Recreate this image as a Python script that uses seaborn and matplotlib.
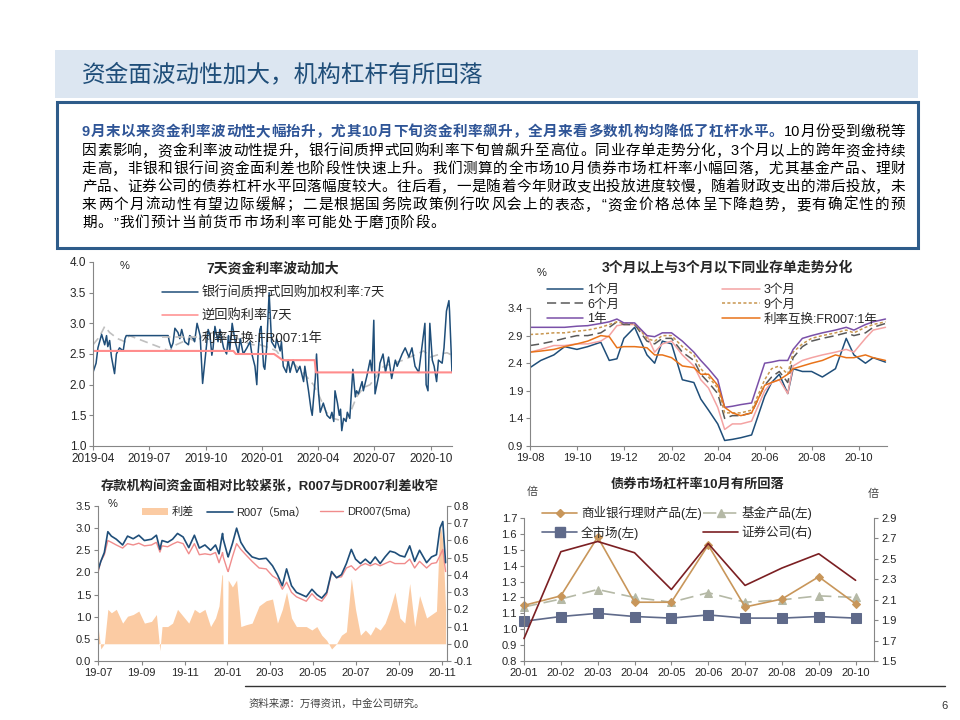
import re
import numpy as np
import pandas as pd
import matplotlib
matplotlib.use("Agg")
import matplotlib.pyplot as plt
import matplotlib.dates as mdates
from matplotlib.lines import Line2D
from matplotlib.patches import Rectangle, Patch
from matplotlib.ticker import FormatStrFormatter
import seaborn as sns

sns.set_theme(style="white")
plt.rcParams['font.family'] = ['Liberation Sans', 'Noto Sans CJK SC']
plt.rcParams['axes.unicode_minus'] = False

# ---------------- data ----------------
# panel 1: 7-day rates
p1_repo7_dates = ['2019-04-01', '2019-04-06', '2019-04-09', '2019-04-15', '2019-04-20', '2019-04-23', '2019-04-25',
                  '2019-04-28', '2019-05-01', '2019-05-06', '2019-05-09', '2019-05-14', '2019-05-20', '2019-05-23',
                  '2019-05-25', '2019-08-01', '2019-08-03', '2019-08-06', '2019-08-09', '2019-08-12', '2019-08-17',
                  '2019-08-20', '2019-08-23', '2019-08-28', '2019-09-03', '2019-09-05', '2019-09-11', '2019-09-13',
                  '2019-09-17', '2019-09-22', '2019-09-26', '2019-10-02', '2019-10-05', '2019-10-08', '2019-10-11',
                  '2019-10-13', '2019-10-16', '2019-10-21', '2019-10-24', '2019-10-30', '2019-11-04', '2019-11-07',
                  '2019-11-09', '2019-11-13', '2019-11-18', '2019-11-23', '2019-11-26', '2019-12-01', '2019-12-07',
                  '2019-12-12', '2019-12-15', '2019-12-20', '2019-12-23', '2019-12-25', '2019-12-28', '2019-12-30',
                  '2020-01-03', '2020-01-05', '2020-01-08', '2020-01-12', '2020-01-16', '2020-01-22', '2020-01-24',
                  '2020-01-30', '2020-02-01', '2020-02-04', '2020-02-09', '2020-02-12', '2020-02-15', '2020-02-20',
                  '2020-02-26', '2020-03-02', '2020-03-08', '2020-03-10', '2020-03-16', '2020-03-20', '2020-03-22',
                  '2020-03-24', '2020-03-27', '2020-03-29', '2020-04-01', '2020-04-04', '2020-04-09', '2020-04-15',
                  '2020-04-20', '2020-04-23', '2020-04-26', '2020-04-28', '2020-05-02', '2020-05-05', '2020-05-07',
                  '2020-05-09', '2020-05-12', '2020-05-16', '2020-05-18', '2020-05-22', '2020-05-27', '2020-05-31',
                  '2020-06-02', '2020-06-05', '2020-06-11', '2020-06-13', '2020-06-19', '2020-06-24', '2020-06-27',
                  '2020-06-30', '2020-07-02', '2020-07-08', '2020-07-10', '2020-07-15', '2020-07-19', '2020-07-24',
                  '2020-07-29', '2020-08-04', '2020-08-07', '2020-08-15', '2020-08-20', '2020-08-26', '2020-08-31',
                  '2020-09-05', '2020-09-11', '2020-09-16', '2020-09-21', '2020-09-23', '2020-09-26', '2020-09-29',
                  '2020-10-03', '2020-10-06', '2020-10-10', '2020-10-13', '2020-10-19', '2020-10-22', '2020-10-26',
                  '2020-10-30', '2020-10-31', '2020-11-04']
p1_repo7 = [2.20, 2.35, 2.60, 2.82, 2.65, 2.80, 2.62, 2.72, 2.45, 2.18, 2.50, 2.60, 2.55, 2.75, 2.80,
            2.80, 2.70, 2.60, 2.68, 2.92, 2.85, 2.75, 2.90, 2.70, 2.65, 2.80, 2.75, 2.70, 3.00, 2.80, 2.02,
            2.60, 2.90, 2.80, 2.48, 2.60, 2.95, 2.70, 2.90, 2.60, 2.50, 2.80, 2.55, 3.00, 2.70, 2.50, 2.75,
            2.50, 2.60, 2.70, 2.50, 2.30, 2.00, 2.50, 2.90, 2.95, 2.30, 2.25, 2.60, 3.50, 2.70, 2.60, 2.75,
            2.55, 2.70, 2.30, 2.20, 2.40, 2.20, 2.40, 2.20, 2.30, 2.05, 2.30, 1.90, 1.60, 1.50, 1.75, 2.10,
            2.50, 1.90, 1.55, 1.70, 1.50, 1.45, 1.55, 1.40, 1.90, 1.70, 1.50, 1.60, 1.25, 1.45, 1.40, 1.55,
            1.45, 2.25, 1.80, 1.90, 1.85, 2.05, 1.90, 2.15, 2.40, 2.20, 3.05, 1.85, 2.15, 2.35, 2.50, 2.20,
            2.45, 2.10, 2.40, 2.30, 2.50, 2.60, 2.45, 2.60, 2.30, 2.20, 2.60, 3.00, 2.00, 1.90, 3.00, 2.40,
            2.30, 2.05, 2.40, 2.35, 2.60, 3.20, 3.37, 3.20, 2.20]
p1_rev_dates = ['2019-04-01', '2019-11-15', '2019-11-19', '2020-01-20', '2020-02-03', '2020-03-26',
                '2020-03-28', '2020-11-04']
p1_rev = [2.55, 2.55, 2.50, 2.50, 2.40, 2.40, 2.20, 2.20]
p1_swap_dates = ['2019-04-01', '2019-04-09', '2019-04-15', '2019-04-20', '2019-04-28', '2019-05-11', '2019-05-23',
                 '2019-05-30', '2019-08-03', '2019-08-14', '2019-08-25', '2019-09-05', '2019-09-16', '2019-09-27',
                 '2019-10-13', '2019-10-29', '2019-11-14', '2019-12-01', '2019-12-17', '2019-12-28', '2020-01-13',
                 '2020-01-24', '2020-02-04', '2020-02-20', '2020-03-07', '2020-03-24', '2020-04-03', '2020-04-14',
                 '2020-04-25', '2020-05-06', '2020-05-17', '2020-05-25', '2020-06-02', '2020-06-13', '2020-06-24',
                 '2020-07-05', '2020-07-16', '2020-08-01', '2020-08-17', '2020-08-28', '2020-09-08', '2020-09-19',
                 '2020-09-30', '2020-10-16', '2020-10-27', '2020-11-04']
p1_swap = [2.65, 2.75, 2.85, 2.95, 2.85, 2.75, 2.70, 2.80, 2.55, 2.65, 2.70, 2.75, 2.70, 2.80, 2.85, 2.75,
           2.80, 2.70, 2.65, 2.65, 2.60, 2.55, 2.40, 2.35, 2.20, 2.00, 1.80, 1.55, 1.45, 1.42, 1.45, 1.60,
           1.80, 1.95, 2.00, 2.15, 2.30, 2.35, 2.40, 2.45, 2.50, 2.55, 2.45, 2.50, 2.52, 2.48]

# panel 2: NCD yields
p2_dates = ['2019-08-01', '2019-08-15', '2019-09-01', '2019-09-15', '2019-10-01', '2019-10-15', '2019-11-01',
            '2019-11-12', '2019-11-22', '2019-12-01', '2019-12-15', '2019-12-31', '2020-01-10', '2020-01-20',
            '2020-02-01', '2020-02-15', '2020-03-01', '2020-03-10', '2020-03-20', '2020-04-01', '2020-04-10',
            '2020-04-20', '2020-05-01', '2020-05-15', '2020-06-01', '2020-06-10', '2020-06-20', '2020-07-01',
            '2020-07-08', '2020-07-20', '2020-08-01', '2020-08-15', '2020-09-01', '2020-09-15', '2020-09-25',
            '2020-10-10', '2020-10-20', '2020-11-05']
p2_m1 = [2.32, 2.45, 2.55, 2.70, 2.65, 2.70, 2.78, 2.45, 2.48, 2.85, 3.05, 2.55, 2.40, 2.80, 2.75, 2.10,
         2.05, 1.75, 1.55, 1.30, 1.00, 1.02, 1.05, 1.10, 1.80, 2.05, 2.20, 1.85, 2.30, 2.25, 2.25, 2.15,
         2.30, 2.85, 2.55, 2.40, 2.50, 2.42]
p2_m3 = [2.60, 2.65, 2.72, 2.72, 2.75, 2.75, 2.80, 2.90, 3.08, 3.10, 3.10, 2.90, 2.60, 2.75, 2.80, 2.55,
         2.35, 2.10, 1.95, 1.60, 1.20, 1.30, 1.30, 1.35, 1.90, 2.05, 2.10, 1.85, 2.35, 2.45, 2.50, 2.55,
         2.60, 2.65, 2.60, 2.85, 3.00, 3.05]
p2_m6 = [2.72, 2.75, 2.80, 2.85, 2.90, 2.90, 2.95, 3.05, 3.15, 3.10, 3.10, 2.80, 2.75, 2.85, 2.85, 2.60,
         2.45, 2.20, 2.05, 1.85, 1.40, 1.45, 1.45, 1.50, 2.00, 2.15, 2.25, 2.05, 2.50, 2.70, 2.80, 2.85,
         2.90, 2.95, 2.90, 2.95, 3.05, 3.12]
p2_m9 = [2.92, 2.93, 2.95, 2.95, 2.98, 3.00, 3.05, 3.10, 3.15, 3.12, 3.12, 2.85, 2.80, 2.90, 2.90, 2.70,
         2.55, 2.30, 2.15, 1.95, 1.50, 1.50, 1.50, 1.55, 2.10, 2.30, 2.35, 2.20, 2.60, 2.75, 2.85, 2.90,
         2.95, 3.00, 2.95, 3.05, 3.10, 3.15]
p2_y1 = [3.05, 3.05, 3.05, 3.05, 3.07, 3.08, 3.12, 3.15, 3.20, 3.13, 3.13, 2.90, 2.88, 2.95, 2.95, 2.80,
         2.60, 2.45, 2.30, 2.10, 1.60, 1.62, 1.65, 1.68, 2.40, 2.42, 2.45, 2.45, 2.65, 2.85, 2.90, 2.95,
         3.00, 3.05, 3.00, 3.10, 3.15, 3.20]
p2_irs = [2.60, 2.62, 2.65, 2.70, 2.75, 2.80, 2.90, 2.88, 2.68, 2.70, 2.70, 2.68, 2.55, 2.55, 2.50, 2.35,
          2.32, 2.20, 2.20, 2.00, 1.60, 1.50, 1.45, 1.50, 2.00, 2.05, 2.10, 2.20, 2.30, 2.35, 2.40, 2.45,
          2.55, 2.50, 2.50, 2.55, 2.50, 2.45]

# panel 3: R007 / DR007 5-day averages and spread
p3_dates = ['2019-07-01', '2019-07-05', '2019-07-10', '2019-07-15', '2019-07-20', '2019-07-27', '2019-08-05',
            '2019-08-12', '2019-08-20', '2019-08-28', '2019-09-05', '2019-09-15', '2019-09-22', '2019-09-27',
            '2019-09-30', '2019-10-08', '2019-10-15', '2019-10-22', '2019-10-30', '2019-11-07', '2019-11-15',
            '2019-11-22', '2019-11-30', '2019-12-08', '2019-12-15', '2019-12-20', '2019-12-24', '2019-12-25',
            '2019-12-26', '2020-01-01', '2020-01-02', '2020-01-08', '2020-01-14', '2020-01-20', '2020-01-27',
            '2020-02-05', '2020-02-15', '2020-02-25', '2020-03-05', '2020-03-12', '2020-03-19', '2020-03-25',
            '2020-04-01', '2020-04-08', '2020-04-15', '2020-04-22', '2020-04-30', '2020-05-07', '2020-05-14',
            '2020-05-21', '2020-05-28', '2020-06-04', '2020-06-11', '2020-06-18', '2020-06-25', '2020-07-01',
            '2020-07-08', '2020-07-15', '2020-07-22', '2020-07-29', '2020-08-05', '2020-08-12', '2020-08-19',
            '2020-08-26', '2020-09-02', '2020-09-09', '2020-09-16', '2020-09-23', '2020-09-30', '2020-10-10',
            '2020-10-17', '2020-10-24', '2020-10-29', '2020-11-02', '2020-11-06']
p3_r007 = [2.05, 2.25, 2.45, 2.92, 2.82, 2.75, 2.62, 2.82, 2.76, 2.84, 2.72, 2.75, 2.84, 2.52, 2.72, 2.68,
           2.75, 2.88, 2.80, 2.56, 2.84, 2.55, 2.62, 2.50, 2.62, 2.42, 2.80, 2.88, 2.75, 2.40, 2.35, 2.65,
           3.00, 2.68, 2.50, 2.35, 2.30, 2.32, 2.15, 1.95, 1.70, 2.08, 1.70, 1.55, 1.50, 1.45, 1.62, 1.50,
           1.42, 1.55, 2.02, 1.88, 1.95, 2.20, 2.52, 2.30, 2.20, 2.30, 2.20, 2.35, 2.20, 2.35, 2.48, 2.45,
           2.38, 2.35, 2.60, 2.25, 2.50, 2.22, 2.35, 2.40, 3.00, 3.15, 2.22]
p3_dr007 = [2.00, 2.25, 2.40, 2.72, 2.68, 2.62, 2.55, 2.65, 2.62, 2.66, 2.60, 2.62, 2.68, 2.46, 2.60, 2.58,
            2.64, 2.69, 2.65, 2.42, 2.65, 2.40, 2.42, 2.40, 2.45, 2.22, 2.40, 2.45, 2.35, 2.05, 2.02, 2.35,
            2.65, 2.52, 2.40, 2.25, 2.10, 2.08, 1.92, 1.85, 1.62, 1.78, 1.55, 1.45, 1.40, 1.35, 1.52, 1.40,
            1.35, 1.50, 2.00, 1.88, 1.90, 2.10, 2.15, 2.05, 2.15, 2.20, 2.15, 2.20, 2.15, 2.20, 2.25, 2.20,
            2.20, 2.20, 2.30, 2.10, 2.25, 2.10, 2.20, 2.22, 2.38, 2.52, 2.02]
p3_spread = [0.10, -0.03, 0.00, 0.20, 0.18, 0.20, 0.12, 0.16, 0.17, 0.19, 0.12, 0.13, 0.17, -0.04, 0.10, 0.10,
             0.12, 0.20, 0.16, 0.12, 0.20, 0.18, 0.20, 0.10, 0.15, 0.22, 0.40, 0.40, 0.00, 0.00, 0.37, 0.33,
             0.37, 0.10, 0.11, 0.12, 0.22, 0.25, 0.26, 0.12, 0.20, 0.30, 0.15, 0.10, 0.10, 0.10, 0.08, 0.10,
             0.05, 0.02, -0.03, 0.00, 0.05, 0.07, 0.38, 0.20, 0.05, 0.08, 0.05, 0.10, 0.08, 0.12, 0.20, 0.30,
             0.15, 0.12, 0.35, 0.10, 0.28, 0.15, 0.17, 0.19, 0.70, 0.60, 0.20]

# panel 4: bond market leverage
p4_months = ['20-01', '20-02', '20-03', '20-04', '20-05', '20-06', '20-07', '20-08', '20-09', '20-10']
p4_wmp = [1.15, 1.21, 1.58, 1.17, 1.17, 1.53, 1.14, 1.19, 1.33, 1.16]
p4_fund = [1.14, 1.19, 1.25, 1.20, 1.17, 1.23, 1.17, 1.185, 1.21, 1.20]
p4_all = [1.05, 1.08, 1.10, 1.08, 1.07, 1.09, 1.07, 1.07, 1.08, 1.07]
p4_broker = [1.72, 2.57, 2.67, 2.56, 2.20, 2.65, 2.24, 2.41, 2.55, 2.29]

page_title = "资金面波动性加大，机构杠杆有所回落"
body_lines = [
    [("9月末以来资金利率波动性大幅抬升，尤其10月下旬资金利率飙升，全月来看多数机构均降低了杠杆水平。", True),
     ("10月份受到缴税等", False)],
    [("因素影响，资金利率波动性提升，银行间质押式回购利率下旬曾飙升至高位。同业存单走势分化，3个月以上的跨年资金持续", False)],
    [("走高，非银和银行间资金面利差也阶段性快速上升。我们测算的全市场10月债券市场杠杆率小幅回落，尤其基金产品、理财", False)],
    [("产品、证券公司的债券杠杆水平回落幅度较大。往后看，一是随着今年财政支出投放进度较慢，随着财政支出的滞后投放，未", False)],
    [("来两个月流动性有望边际缓解；二是根据国务院政策例行吹风会上的表态，“资金价格总体呈下降趋势，要有确定性的预", False)],
    [("期。”我们预计当前货币市场利率可能处于磨顶阶段。", False)],
]

# ---------------- layout helpers ----------------
W, H = 960, 720
fig = plt.figure(figsize=(9.6, 7.2), dpi=100)
fig.patch.set_facecolor('white')


def fx(px):
    return px / W


def fy(py):
    return 1 - py / H


def box(l, t, r, b):
    return [fx(l), fy(b), (r - l) / W, (b - t) / H]


AX_COL = '#868686'


def style(ax, size=8, right_spine=False):
    ax.spines['top'].set_visible(False)
    ax.spines['right'].set_visible(right_spine)
    for s in ['left', 'bottom', 'right']:
        ax.spines[s].set_color(AX_COL)
        ax.spines[s].set_linewidth(0.8)
    ax.tick_params(axis='both', which='both', direction='out', length=3, width=0.8,
                   color=AX_COL, labelsize=size, pad=2, bottom=True, left=True)
    ax.set_xlabel('')
    ax.set_ylabel('')
    ax.grid(False)


def legend(handles, labels, x, ytop, size, spacing, hl):
    fig.legend(handles, labels, loc='upper left', bbox_to_anchor=(fx(x), fy(ytop)),
               bbox_transform=fig.transFigure, frameon=False, fontsize=size, borderpad=0,
               borderaxespad=0, handlelength=hl, handletextpad=0.3, labelspacing=spacing)


# ---------------- header ----------------
fig.add_artist(Rectangle((fx(55), fy(98)), 863 / W, 48 / H, transform=fig.transFigure,
                         facecolor='#DCE6F1', edgecolor='none'))
fig.text(fx(82), fy(75), page_title, fontsize=17, color='#1F4E79', va='center', ha='left')
fig.add_artist(Rectangle((fx(57), fy(248)), 861 / W, 146 / H, transform=fig.transFigure,
                         fill=False, edgecolor='#2E5C8A', linewidth=2.2))

renderer = fig.canvas.get_renderer()
body_y = [132, 151, 169, 187, 205, 223]
fs = 10.5
em = fs * 100 / 72
for i, parts in enumerate(body_lines):
    toks = []
    for s, bold in parts:
        for tok in re.findall(r'[A-Za-z0-9]+|.', s):
            toks.append((tok, bold))
    arts, widths = [], []
    for tok, bold in toks:
        t = fig.text(0, fy(body_y[i]), tok, fontsize=fs, va='center', ha='left',
                     color='#2F5597' if bold else 'black', weight='bold' if bold else 'normal')
        if len(tok) == 1 and ord(tok) >= 0x3000:
            w = em
        else:
            w = t.get_window_extent(renderer).width
        arts.append(t)
        widths.append(w)
    x0, x1 = 82, 905
    if i < len(body_lines) - 1:
        gap = (x1 - x0 - sum(widths)) / (len(toks) - 1)
    else:
        gap = 1.0
    x = x0
    for t, w in zip(arts, widths):
        t.set_x(fx(x))
        x += w + gap

# ---------------- panel 1 ----------------
ax1 = fig.add_axes(box(93, 262, 452, 446))
c_navy = '#1F4E79'
sns.lineplot(x=pd.to_datetime(p1_swap_dates), y=p1_swap, ax=ax1, color='#C0C0C0', lw=1.2,
             linestyle=(0, (5, 3)))
sns.lineplot(x=pd.to_datetime(p1_repo7_dates), y=p1_repo7, ax=ax1, color=c_navy, lw=1.1)
sns.lineplot(x=pd.to_datetime(p1_rev_dates), y=p1_rev, ax=ax1, color='#FF8C8C', lw=1.5)
ax1.set_xlim(pd.Timestamp('2019-04-01'), pd.Timestamp('2020-11-04'))
ax1.set_ylim(1.0, 4.0)
ax1.set_yticks(np.arange(1.0, 4.01, 0.5))
ax1.yaxis.set_major_formatter(FormatStrFormatter('%.1f'))
ax1.xaxis.set_major_locator(mdates.MonthLocator(bymonth=[1, 4, 7, 10]))
ax1.xaxis.set_major_formatter(mdates.DateFormatter('%Y-%m'))
style(ax1, size=8.5)
fig.text(fx(273), fy(269), '7天资金利率波动加大', fontsize=10, weight='bold', ha='center', va='center')
fig.text(fx(125), fy(266), '%', fontsize=8, ha='center', va='center')
legend([Line2D([], [], color=c_navy, lw=1.1),
        Line2D([], [], color='#FF8C8C', lw=1.1),
        Line2D([], [], color='#C0C0C0', lw=1.2, ls=(0, (5, 3)))],
       ['银行间质押式回购加权利率:7天', '逆回购利率:7天', '利率互换:FR007:1年'],
       162, 287, 9.5, 0.73, 2.7)

# ---------------- panel 2 ----------------
ax2 = fig.add_axes(box(530, 308, 887, 446))
d2 = pd.to_datetime(p2_dates)
s2 = [('1个月', p2_m1, '#1F4E79', '-'), ('3个月', p2_m3, '#F4A3A3', '-'),
      ('6个月', p2_m6, '#595959', (0, (6, 3))), ('9个月', p2_m9, '#C8964F', (0, (2, 1.5))),
      ('1年', p2_y1, '#7A50A8', '-'), ('利率互换:FR007:1年', p2_irs, '#E8731A', '-')]
handles2 = {}
for name, vals, col, ls in s2:
    sns.lineplot(x=d2, y=vals, ax=ax2, color=col, lw=1.1, linestyle=ls)
    handles2[name] = Line2D([], [], color=col, lw=1.1, ls=ls)
ax2.set_xlim(pd.Timestamp('2019-08-01'), pd.Timestamp('2020-11-07'))
ax2.set_ylim(0.9, 3.4)
ax2.set_yticks(np.arange(0.9, 3.41, 0.5))
ax2.yaxis.set_major_formatter(FormatStrFormatter('%.1f'))
ax2.xaxis.set_major_locator(mdates.MonthLocator(bymonth=[2, 4, 6, 8, 10, 12]))
ax2.xaxis.set_major_formatter(mdates.DateFormatter('%y-%m'))
style(ax2, size=8)
fig.text(fx(727), fy(268), '3个月以上与3个月以下同业存单走势分化', fontsize=10, weight='bold',
         ha='center', va='center')
fig.text(fx(542), fy(273), '%', fontsize=8, ha='center', va='center')
col1 = ['1个月', '6个月', '1年']
col2 = ['3个月', '9个月', '利率互换:FR007:1年']
legend([handles2[n] for n in col1], col1, 547, 284, 9, 0.22, 2.9)
legend([handles2[n] for n in col2], col2, 722, 284, 9, 0.22, 3.0)

# ---------------- panel 3 ----------------
ax3 = fig.add_axes(box(98, 506, 447, 661))
ax3r = ax3.twinx()
d3 = pd.to_datetime(p3_dates)
c_area = '#FBCBA3'
ax3r.fill_between(d3, 0, p3_spread, color=c_area, lw=0)
sns.lineplot(x=d3, y=p3_dr007, ax=ax3, color='#F08C8C', lw=1.0)
sns.lineplot(x=d3, y=p3_r007, ax=ax3, color=c_navy, lw=1.2)
ax3.set_zorder(ax3r.get_zorder() + 1)
ax3.patch.set_visible(False)
ax3.set_xlim(pd.Timestamp('2019-07-01'), pd.Timestamp('2020-11-08'))
ax3.set_ylim(0, 3.5)
ax3.set_yticks(np.arange(0, 3.51, 0.5))
ax3.yaxis.set_major_formatter(FormatStrFormatter('%.1f'))
ax3r.set_ylim(-0.1, 0.8)
ax3r.set_yticks(np.arange(-0.1, 0.81, 0.1))
ax3r.yaxis.set_major_formatter(FormatStrFormatter('%.1f'))
ax3.xaxis.set_major_locator(mdates.MonthLocator(bymonth=[1, 3, 5, 7, 9, 11]))
ax3.xaxis.set_major_formatter(mdates.DateFormatter('%y-%m'))
style(ax3, size=8)
style(ax3r, size=8, right_spine=True)
ax3r.spines['left'].set_visible(False)
ax3r.spines['bottom'].set_visible(False)
ax3r.tick_params(left=False, right=True, bottom=False)
fig.text(fx(270), fy(486), '存款机构间资金面相对比较紧张，R007与DR007利差收窄', fontsize=9.5,
         weight='bold', ha='center', va='center')
fig.text(fx(113), fy(504), '%', fontsize=8, ha='center', va='center')
legend([Patch(facecolor=c_area, edgecolor='none')], ['利差'], 142, 507, 8, 0.1, 2.35)
legend([Line2D([], [], color=c_navy, lw=1.2)], ['R007（5ma）'], 207, 507, 8, 0.1, 2.35)
legend([Line2D([], [], color='#F08C8C', lw=1.0)], ['DR007(5ma)'], 320, 507, 8, 0.1, 2.1)

# ---------------- panel 4 ----------------
ax4 = fig.add_axes(box(524, 518, 874, 661))
ax4r = ax4.twinx()
xs = np.arange(len(p4_months))
c_wmp, c_fund, c_all, c_brk = '#C8965A', '#B5B9A6', '#5F6A8A', '#7B1F22'
sns.lineplot(x=xs, y=p4_all, ax=ax4, color=c_all, lw=1.2, marker='s', markersize=7,
             markeredgecolor=c_all, clip_on=False)
sns.lineplot(x=xs, y=p4_fund, ax=ax4, color=c_fund, lw=1.2, linestyle=(0, (8, 4)), marker='^',
             markersize=6, markeredgecolor=c_fund, clip_on=False)
sns.lineplot(x=xs, y=p4_wmp, ax=ax4, color=c_wmp, lw=1.2, marker='D', markersize=4,
             markeredgecolor=c_wmp, clip_on=False)
sns.lineplot(x=xs, y=p4_broker, ax=ax4r, color=c_brk, lw=1.2, clip_on=False)
ax4.set_xlim(0, 9.5)
ax4.set_xticks(xs)
ax4.set_xticklabels(p4_months)
ax4.set_ylim(0.8, 1.7)
ax4.set_yticks(np.arange(0.8, 1.71, 0.1))
ax4.yaxis.set_major_formatter(FormatStrFormatter('%.1f'))
ax4r.set_ylim(1.5, 2.9)
ax4r.set_yticks(np.arange(1.5, 2.91, 0.2))
ax4r.yaxis.set_major_formatter(FormatStrFormatter('%.1f'))
style(ax4, size=8)
style(ax4r, size=8, right_spine=True)
ax4r.spines['left'].set_visible(False)
ax4r.spines['bottom'].set_visible(False)
ax4r.tick_params(left=False, right=True, bottom=False)
fig.text(fx(698), fy(485), '债券市场杠杆率10月有所回落', fontsize=9.5, weight='bold',
         ha='center', va='center')
fig.text(fx(532), fy(492), '倍', fontsize=8, ha='center', va='center', color='#404040')
fig.text(fx(873), fy(494), '倍', fontsize=8, ha='center', va='center', color='#404040')
h_wmp = Line2D([], [], color=c_wmp, lw=1.2, marker='D', markersize=4)
h_fund = Line2D([], [], color=c_fund, lw=1.2, ls=(0, (8, 4)), marker='^', markersize=6)
h_all = Line2D([], [], color=c_all, lw=1.2, marker='s', markersize=7)
h_brk = Line2D([], [], color=c_brk, lw=1.2)
legend([h_wmp, h_all], ['商业银行理财产品(左)', '全市场(左)'], 542, 506, 9, 0.45, 2.8)
legend([h_fund, h_brk], ['基金产品(左)', '证券公司(右)'], 703, 506, 9, 0.45, 2.8)

# ---------------- footer ----------------
fig.add_artist(Line2D([fx(245), fx(945)], [fy(686), fy(686)], transform=fig.transFigure,
                      color='#333333', lw=1.0))
fig.text(fx(249), fy(704), '资料来源：万得资讯，中金公司研究。', fontsize=7.5, color='#404040',
         ha='left', va='center')
fig.text(fx(944), fy(706), '6', fontsize=8, color='#333333', ha='center', va='center')

fig.savefig('out.png', dpi=100, facecolor='white')
